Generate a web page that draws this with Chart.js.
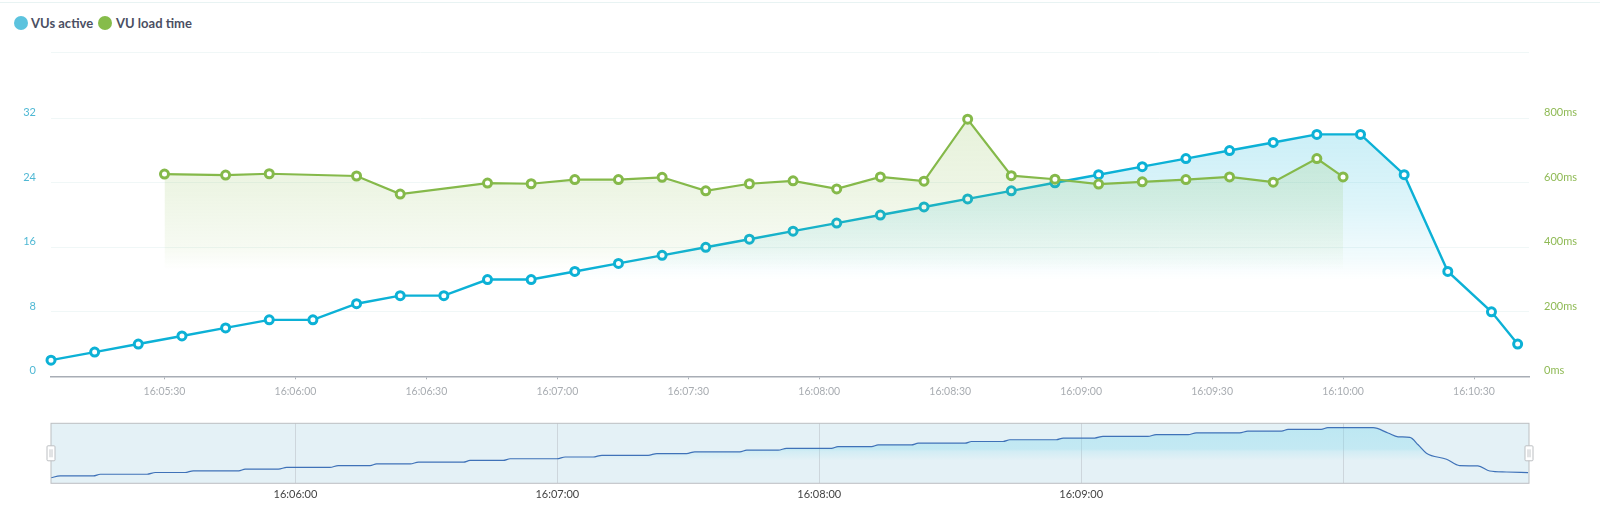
<!DOCTYPE html>
<html>
<head>
<meta charset="utf-8">
<title>VUs active / VU load time</title>
<script src="https://cdn.jsdelivr.net/npm/chart.js"></script>
<style>
    body { margin: 0; background: #fff; width: 1600px; height: 515px; overflow: hidden; position: relative; font-family: Lato, sans-serif; }
    canvas { position: absolute; left: 0; }
    #topLine { position: absolute; left: 0; top: 2px; width: 1600px; height: 1px; background: #e8f3f3; }
    #legend { position: absolute; left: 14px; top: 14px; height: 18px; font-size: 13px; font-weight: 700; color: #4b4f63; }
    #legend span { position: absolute; top: 0; line-height: 18px; white-space: nowrap; }
    #legend i { position: absolute; top: 2px; width: 14px; height: 14px; border-radius: 50%; }
</style>
</head>
<body>
<div id="topLine"></div>
<div id="legend">
    <i style="left: 0; background: #5cc3de"></i><span style="left: 17px">VUs active</span>
    <i style="left: 84px; background: #86bc4a"></i><span style="left: 102px">VU load time</span>
</div>
<canvas id="mainChart" width="1600" height="400" style="top: 0"></canvas>
<canvas id="navChart" width="1600" height="105" style="top: 410px"></canvas>

<script>
    // times are seconds after 16:00:00
    const vuTimes = [304, 314, 324, 334, 344, 354, 364, 374, 384, 394, 404, 414, 424, 434, 444, 454, 464, 474,
        484, 494, 504, 514, 524, 534, 544, 554, 564, 574, 584, 594, 604, 614, 624, 634, 640];
    const vuValues = [2, 3, 4, 5, 6, 7, 7, 9, 10, 10, 12, 12, 13, 14, 15, 16, 17, 18,
        19, 20, 21, 22, 23, 24, 25, 26, 27, 28, 29, 30, 30, 25, 13, 8, 4];

    const loadTimes = [330, 344, 354, 374, 384, 404, 414, 424, 434, 444, 454, 464, 474,
        484, 494, 504, 514, 524, 534, 544, 554, 564, 574, 584, 594, 600];
    const loadValues = [627, 624, 628, 621, 565, 599, 597, 610, 610, 617, 575, 597, 606,
        581, 618, 605, 797, 622, 611, 596, 603, 610, 618, 602, 675, 618];

    // overview strip: plateau ends
    const navTimes = [304, 306.1, 313.7, 315.3, 326, 327.9, 334.7, 336.6, 347, 348.5, 356.1, 358, 367.9, 369.8,
        377.1, 378.6, 386.3, 388.2, 398.5, 400, 407.6, 409.2, 419.9, 421.8, 428.2, 430.2, 440.8, 442.8, 449.6, 451.5,
        461.8, 463.4, 470.6, 472.5, 482.8, 484.3, 492, 493.5, 501.1, 502.7, 513.4, 514.9, 522.1, 523.7, 534.3, 535.9,
        543.1, 545, 555.3, 557.2, 564.5, 566.4, 576.3, 578.2, 585.9, 587.4, 595, 596.5, 606.9, 610.3, 612.6, 615.3,
        617.2, 619.1, 623.7, 626.7, 630.9, 633.6, 637.4, 642.4];
    const navValues = [1, 2, 2, 3, 3, 4, 4, 5, 5, 6, 6, 7, 7, 8,
        8, 9, 9, 10, 10, 11, 11, 12, 12, 13, 13, 14, 14, 15, 15, 16,
        16, 17, 17, 18, 18, 19, 19, 20, 20, 21, 21, 22, 22, 23, 23, 24,
        24, 25, 25, 26, 26, 27, 27, 28, 28, 29, 29, 30, 30, 26.9, 24.7, 24.4,
        20.1, 15.2, 11.7, 8, 7.8, 4.9, 4.3, 3.9];

    const xMin = 304;
    const xMax = 642.6;
    const vuTicks = [0, 8, 16, 24, 32];
    const loadTicks = [0, 200, 400, 600, 800];
    const navLabels = [360, 420, 480, 540];
    // the top gridline sits a little above where 40 would fall
    const vuMax = 40.18;
    const loadMax = 1004.5;

    const blue = '#0cb1d6';
    const green = '#85b94a';
    const tickFont = { family: 'Lato', size: 10.5 };

    function clock(secs) {
        const m = Math.floor(secs / 60);
        const s = secs % 60;
        return '16:' + String(m).padStart(2, '0') + ':' + String(s).padStart(2, '0');
    }

    function points(xs, ys) {
        return xs.map((x, i) => ({ x: x, y: ys[i] }));
    }

    // vertical fade, positioned in value space so it follows the scale
    function fade(scaleId, fromValue, toValue, stops) {
        return function (context) {
            const chart = context.chart;
            if (!chart.chartArea) return 'transparent';
            const scale = chart.scales[scaleId];
            const g = chart.ctx.createLinearGradient(0, scale.getPixelForValue(fromValue), 0, scale.getPixelForValue(toValue));
            stops.forEach(s => g.addColorStop(s[0], s[1]));
            return g;
        };
    }

    new Chart(document.getElementById('mainChart'), {
        type: 'line',
        data: {
            datasets: [{
                label: 'VU load time',
                yAxisID: 'y1',
                order: 1,
                data: points(loadTimes, loadValues),
                borderColor: green,
                borderWidth: 2.2,
                tension: 0,
                fill: 'start',
                backgroundColor: fade('y1', 800, 330, [
                    [0, 'rgba(134,188,74,0.2)'],
                    [0.5, 'rgba(134,188,74,0.14)'],
                    [0.85, 'rgba(134,188,74,0.07)'],
                    [1, 'rgba(134,188,74,0)']
                ]),
                pointRadius: 4,
                pointBorderWidth: 3,
                pointBorderColor: green,
                pointBackgroundColor: '#fff',
                clip: false
            }, {
                label: 'VUs active',
                yAxisID: 'y',
                order: 2,
                data: points(vuTimes, vuValues),
                borderColor: blue,
                borderWidth: 2.4,
                tension: 0,
                fill: 'start',
                backgroundColor: fade('y', 30, 12, [
                    [0, 'rgba(0,176,216,0.2)'],
                    [0.5, 'rgba(0,176,216,0.13)'],
                    [0.85, 'rgba(0,176,216,0.05)'],
                    [1, 'rgba(0,176,216,0)']
                ]),
                pointRadius: 4,
                pointBorderWidth: 3,
                pointBorderColor: blue,
                pointBackgroundColor: '#fff',
                clip: false
            }]
        },
        options: {
            responsive: false,
            animation: false,
            events: [],
            layout: { autoPadding: false, padding: { top: 52.3 } },
            plugins: { legend: { display: false }, tooltip: { enabled: false } },
            scales: {
                x: {
                    type: 'linear',
                    min: xMin,
                    max: xMax,
                    afterFit: s => { s.height = 23.7; },
                    border: { color: '#a8adb5', width: 1.5 },
                    grid: { drawOnChartArea: false, tickLength: 3, tickColor: '#a8adb5' },
                    ticks: {
                        stepSize: 30,
                        includeBounds: false,
                        autoSkip: false,
                        maxRotation: 0,
                        padding: 6,
                        color: '#a9adb2',
                        font: tickFont,
                        callback: v => clock(v)
                    }
                },
                y: {
                    position: 'left',
                    min: 0,
                    max: vuMax,
                    afterFit: s => { s.width = 51; },
                    border: { display: false },
                    grid: { color: '#f0f7f7', drawTicks: false },
                    afterBuildTicks: s => { s.ticks = vuTicks.concat(vuMax).map(v => ({ value: v })); },
                    ticks: {
                        padding: 15,
                        labelOffset: -5.5,
                        color: '#4fb8d4',
                        font: { family: 'Lato', size: 11 },
                        callback: v => (vuTicks.includes(v) ? v : '')
                    }
                },
                y1: {
                    position: 'right',
                    min: 0,
                    max: loadMax,
                    afterFit: s => { s.width = 71; },
                    border: { display: false },
                    grid: { drawOnChartArea: false, drawTicks: false },
                    afterBuildTicks: s => { s.ticks = loadTicks.map(v => ({ value: v })); },
                    ticks: {
                        padding: 15,
                        labelOffset: -5.5,
                        color: '#8fba55',
                        font: { family: 'Lato', size: 11 },
                        callback: v => v + 'ms'
                    }
                }
            }
        }
    });

    // navigator background, frame and the two drag handles
    const navFrame = {
        id: 'navFrame',
        beforeDraw(chart) {
            const a = chart.chartArea;
            chart.ctx.fillStyle = '#e4f1f6';
            chart.ctx.fillRect(a.left, a.top, a.width, a.height);
        },
        afterDraw(chart) {
            const a = chart.chartArea;
            const ctx = chart.ctx;
            ctx.save();
            ctx.strokeStyle = '#bcbfc2';
            ctx.lineWidth = 1;
            ctx.strokeRect(a.left, a.top, a.width, a.height);
            [a.left, a.right].forEach(x => {
                const midY = (a.top + a.bottom) / 2;
                ctx.fillStyle = '#fff';
                ctx.beginPath();
                ctx.roundRect(x - 4, midY - 7.5, 8, 15, 1);
                ctx.fill();
                ctx.stroke();
                ctx.strokeStyle = '#c4c7ca';
                ctx.beginPath();
                ctx.moveTo(x - 1, midY - 4);
                ctx.lineTo(x - 1, midY + 4);
                ctx.moveTo(x + 1, midY - 4);
                ctx.lineTo(x + 1, midY + 4);
                ctx.stroke();
                ctx.strokeStyle = '#bcbfc2';
            });
            ctx.restore();
        }
    };

    new Chart(document.getElementById('navChart'), {
        type: 'line',
        data: {
            datasets: [{
                label: 'VUs active',
                data: points(navTimes, navValues),
                borderColor: '#3f72b8',
                borderWidth: 1.2,
                cubicInterpolationMode: 'monotone',
                pointRadius: 0,
                fill: 'start',
                backgroundColor: fade('y', 30, 11, [
                    [0, 'rgba(120,214,236,0.36)'],
                    [0.65, 'rgba(120,214,236,0.3)'],
                    [0.72, 'rgba(120,214,236,0.17)'],
                    [1, 'rgba(120,214,236,0)']
                ])
            }]
        },
        plugins: [navFrame],
        options: {
            responsive: false,
            animation: false,
            events: [],
            layout: { autoPadding: false, padding: { left: 51, right: 71, top: 13.3 } },
            plugins: { legend: { display: false }, tooltip: { enabled: false } },
            scales: {
                x: {
                    type: 'linear',
                    min: xMin,
                    max: xMax,
                    afterFit: s => { s.height = 31.7; },
                    border: { display: false },
                    grid: { color: '#cdd6dc', drawTicks: false },
                    ticks: {
                        stepSize: 60,
                        includeBounds: false,
                        autoSkip: false,
                        maxRotation: 0,
                        padding: 5,
                        color: '#444',
                        font: { family: 'Lato', size: 11 },
                        callback: v => (navLabels.includes(v) ? clock(v) : '')
                    }
                },
                y: { display: false, min: -2.25, max: 32.55 }
            }
        }
    });
</script>
</body>
</html>
